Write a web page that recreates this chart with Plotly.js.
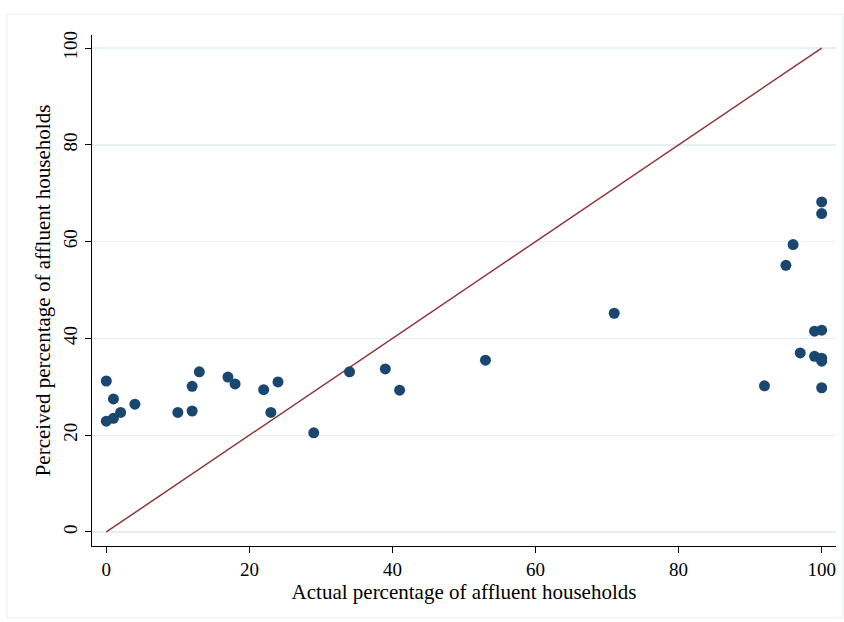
<!DOCTYPE html>
<html>
<head>
<meta charset="utf-8">
<script src="https://cdn.plot.ly/plotly-3.0.1.min.js"></script>
<style>html,body{margin:0;padding:0;background:#fff;}#chart{width:844px;height:622px;}</style>
</head>
<body>
<div id="chart"></div>
<script>
const actualPct = [0, 1, 0, 1, 2, 4, 10, 12, 12, 13, 17, 18, 22, 24, 23, 29, 34, 39, 41, 53, 71, 92, 95, 96, 97, 99, 99, 100, 100, 100, 100, 100, 100];
const perceivedPct = [31.2, 27.5, 22.9, 23.5, 24.7, 26.4, 24.7, 25.0, 30.1, 33.1, 32.0, 30.6, 29.4, 31.0, 24.7, 20.5, 33.1, 33.7, 29.3, 35.5, 45.2, 30.2, 55.1, 59.4, 37.0, 41.5, 36.3, 41.7, 35.9, 35.3, 29.8, 65.8, 68.2];
const refLineX = [0, 100];
const refLineY = [0, 100];
const tickVals = [0, 20, 40, 60, 80, 100];

const font = "Liberation Serif, Times New Roman, serif";

const data = [
  {
    x: refLineX, y: refLineY, type: 'scatter', mode: 'lines',
    line: {color: '#90353b', width: 1.5}, hoverinfo: 'skip', showlegend: false
  },
  {
    x: actualPct, y: perceivedPct, type: 'scatter', mode: 'markers',
    marker: {color: '#1a476f', size: 11}, showlegend: false
  }
];

const layout = {
  width: 844, height: 622,
  paper_bgcolor: '#ffffff', plot_bgcolor: '#ffffff',
  margin: {l: 92, r: 8, t: 35, b: 76},
  font: {family: font, color: '#000', size: 19},
  xaxis: {
    range: [-2, 102], tickvals: tickVals, ticks: 'outside', ticklen: 6, tickcolor: '#000',
    showline: true, linecolor: '#000', linewidth: 1, showgrid: false, zeroline: false,
    tickfont: {family: font, size: 19},
    title: {text: 'Actual percentage of affluent households', font: {family: font, size: 21}, standoff: 2}
  },
  yaxis: {
    range: [-2.9, 102.7], tickvals: tickVals, ticks: 'outside', ticklen: 6, tickcolor: '#000',
    tickangle: -90,
    showline: true, linecolor: '#000', linewidth: 1, showgrid: true, gridcolor: '#e6eff1', gridwidth: 1.3,
    zeroline: false,
    tickfont: {family: font, size: 19},
    title: {text: 'Perceived percentage of affluent households', font: {family: font, size: 21}, standoff: 4}
  },
  shapes: [
    {type: 'rect', xref: 'paper', yref: 'paper', x0: -0.1142, x1: 1.0094, y0: -0.1409, y1: 1.0411,
     line: {color: '#e6edef', width: 1}, fillcolor: 'rgba(0,0,0,0)', layer: 'below'}
  ]
};

Plotly.newPlot('chart', data, layout, {displayModeBar: false, staticPlot: true});
</script>
</body>
</html>
